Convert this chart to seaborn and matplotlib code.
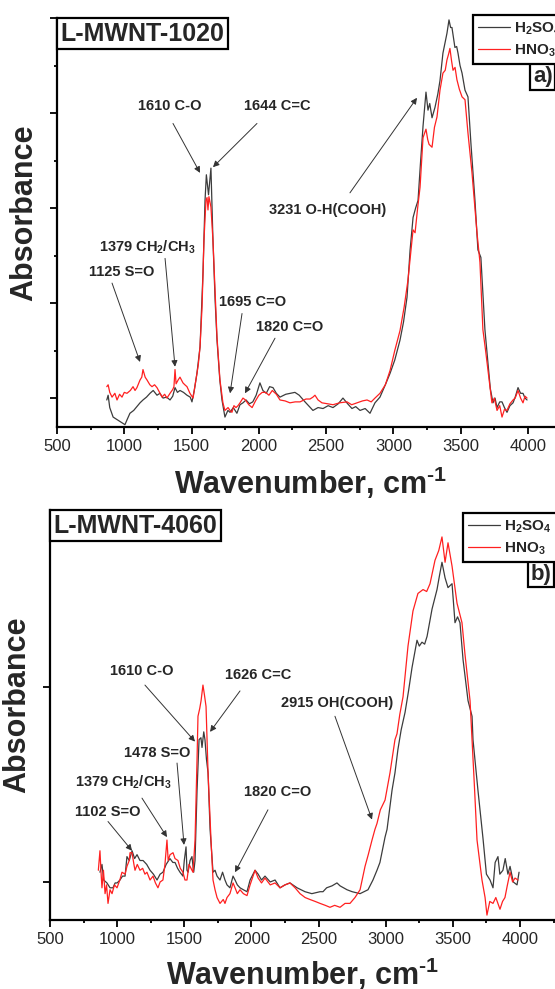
import numpy as np
import pandas as pd
import seaborn as sns
import matplotlib.pyplot as plt
from matplotlib.ticker import MultipleLocator

# ---- panel a) L-MWNT-1020 ----
wn_a_h2so4 = [870, 880, 892, 917, 950, 983, 1005, 1020, 1042, 1070,
              1094, 1117, 1139, 1165, 1191, 1215, 1243, 1265, 1288, 1315,
              1340, 1360, 1377, 1395, 1414, 1440, 1466, 1490, 1503, 1520,
              1540, 1563, 1585, 1600, 1610, 1626, 1644, 1659, 1675, 1689,
              1710, 1726, 1748, 1770, 1786, 1810, 1837, 1860, 1882, 1905,
              1930, 1955, 1980, 2008, 2030, 2055, 2080, 2105, 2130, 2157,
              2200, 2268, 2300, 2343, 2402, 2440, 2477, 2515, 2551, 2590,
              2625, 2660, 2692, 2720, 2752, 2790, 2826, 2863, 2900, 2940,
              2975, 3010, 3049, 3075, 3101, 3124, 3146, 3165, 3183, 3200,
              3220, 3242, 3257, 3270, 3287, 3309, 3330, 3346, 3368, 3385,
              3398, 3413, 3425, 3435, 3457, 3470, 3480, 3495, 3510, 3532,
              3554, 3576, 3606, 3628, 3650, 3680, 3703, 3720, 3740, 3755,
              3770, 3790, 3807, 3825, 3844, 3866, 3889, 3905, 3926, 3945,
              3963, 3978, 3993]
abs_a_h2so4 = [0.098, 0.103, 0.090, 0.080, 0.077, 0.074, 0.072, 0.077, 0.084, 0.087,
               0.091, 0.095, 0.098, 0.101, 0.105, 0.108, 0.103, 0.105, 0.100, 0.101,
               0.098, 0.102, 0.111, 0.106, 0.108, 0.106, 0.103, 0.101, 0.096, 0.108,
               0.126, 0.154, 0.232, 0.308, 0.335, 0.314, 0.342, 0.266, 0.203, 0.161,
               0.119, 0.098, 0.080, 0.087, 0.085, 0.090, 0.084, 0.093, 0.095, 0.098,
               0.094, 0.096, 0.103, 0.116, 0.108, 0.105, 0.112, 0.111, 0.105, 0.101,
               0.104, 0.106, 0.103, 0.096, 0.087, 0.090, 0.089, 0.092, 0.090, 0.094,
               0.100, 0.094, 0.089, 0.091, 0.087, 0.089, 0.084, 0.095, 0.101, 0.114,
               0.126, 0.140, 0.161, 0.180, 0.206, 0.256, 0.290, 0.300, 0.308, 0.345,
               0.386, 0.422, 0.403, 0.410, 0.395, 0.406, 0.420, 0.434, 0.463, 0.475,
               0.484, 0.498, 0.490, 0.490, 0.469, 0.470, 0.463, 0.450, 0.442, 0.424,
               0.417, 0.368, 0.308, 0.256, 0.248, 0.172, 0.137, 0.110, 0.095, 0.100,
               0.090, 0.096, 0.096, 0.090, 0.085, 0.092, 0.095, 0.101, 0.111, 0.105,
               0.105, 0.100, 0.098]

wn_a_hno3 = [870, 880, 892, 909, 930, 946, 965, 983, 1000, 1020,
             1045, 1065, 1080, 1094, 1117, 1130, 1139, 1155, 1169, 1190,
             1206, 1225, 1243, 1262, 1280, 1300, 1317, 1340, 1360, 1369,
             1377, 1385, 1400, 1414, 1436, 1450, 1466, 1488, 1511, 1520,
             1533, 1550, 1563, 1578, 1592, 1607, 1615, 1622, 1629, 1644,
             1659, 1674, 1689, 1711, 1733, 1748, 1771, 1786, 1800, 1815,
             1830, 1845, 1860, 1882, 1900, 1925, 1950, 1975, 2000, 2025,
             2050, 2075, 2100, 2130, 2157, 2195, 2231, 2270, 2306, 2350,
             2380, 2402, 2417, 2440, 2469, 2510, 2551, 2600, 2655, 2690,
             2729, 2770, 2804, 2835, 2863, 2900, 2940, 2975, 3010, 3049,
             3080, 3108, 3146, 3161, 3180, 3198, 3220, 3242, 3255, 3265,
             3287, 3305, 3324, 3346, 3368, 3385, 3398, 3410, 3420, 3432,
             3443, 3458, 3472, 3490, 3510, 3532, 3554, 3584, 3621, 3643,
             3665, 3685, 3703, 3732, 3750, 3770, 3790, 3807, 3825, 3844,
             3866, 3889, 3905, 3926, 3945, 3963, 3978, 3993]
abs_a_hno3 = [0.112, 0.114, 0.106, 0.101, 0.105, 0.098, 0.104, 0.101, 0.106, 0.105,
              0.108, 0.112, 0.108, 0.111, 0.119, 0.122, 0.130, 0.122, 0.119, 0.114,
              0.112, 0.114, 0.111, 0.106, 0.101, 0.104, 0.100, 0.105, 0.109, 0.112,
              0.130, 0.115, 0.119, 0.122, 0.116, 0.114, 0.112, 0.105, 0.100, 0.108,
              0.119, 0.135, 0.154, 0.196, 0.266, 0.308, 0.311, 0.298, 0.312, 0.301,
              0.266, 0.214, 0.164, 0.119, 0.095, 0.087, 0.090, 0.087, 0.085, 0.092,
              0.090, 0.092, 0.095, 0.100, 0.098, 0.093, 0.090, 0.097, 0.103, 0.106,
              0.106, 0.103, 0.108, 0.104, 0.098, 0.097, 0.095, 0.096, 0.096, 0.099,
              0.099, 0.101, 0.103, 0.098, 0.095, 0.094, 0.093, 0.095, 0.096, 0.093,
              0.095, 0.097, 0.098, 0.096, 0.100, 0.105, 0.114, 0.129, 0.150, 0.171,
              0.196, 0.224, 0.277, 0.274, 0.300, 0.322, 0.374, 0.383, 0.372, 0.367,
              0.364, 0.385, 0.396, 0.424, 0.442, 0.445, 0.456, 0.462, 0.468, 0.455,
              0.445, 0.448, 0.435, 0.425, 0.417, 0.414, 0.379, 0.337, 0.274, 0.243,
              0.172, 0.150, 0.129, 0.095, 0.100, 0.087, 0.092, 0.080, 0.088, 0.087,
              0.094, 0.098, 0.100, 0.108, 0.100, 0.095, 0.102, 0.100]

# ---- panel b) L-MWNT-4060 ----
wn_b_h2so4 = [872, 887, 900, 924, 947, 969, 985, 1000, 1021, 1040,
              1059, 1073, 1090, 1111, 1130, 1148, 1170, 1193, 1220, 1245,
              1270, 1297, 1320, 1341, 1365, 1393, 1415, 1431, 1450, 1468,
              1490, 1500, 1513, 1520, 1528, 1543, 1557, 1570, 1580, 1595,
              1610, 1624, 1632, 1645, 1654, 1665, 1677, 1692, 1706, 1714,
              1729, 1744, 1766, 1785, 1803, 1818, 1840, 1863, 1878, 1895,
              1915, 1940, 1967, 1990, 2027, 2050, 2075, 2101, 2140, 2176,
              2213, 2250, 2287, 2340, 2399, 2450, 2511, 2533, 2560, 2600,
              2637, 2660, 2712, 2750, 2809, 2868, 2905, 2935, 2957, 2995,
              3010, 3047, 3069, 3091, 3115, 3144, 3170, 3196, 3233, 3250,
              3270, 3290, 3308, 3345, 3382, 3400, 3419, 3442, 3464, 3494,
              3516, 3535, 3553, 3576, 3613, 3643, 3650, 3687, 3725, 3750,
              3777, 3799, 3815, 3836, 3850, 3873, 3890, 3910, 3926, 3950,
              3978, 3993]
abs_b_h2so4 = [0.105, 0.109, 0.101, 0.0995, 0.097, 0.097, 0.0995, 0.0995, 0.101, 0.103,
               0.103, 0.113, 0.111, 0.116, 0.112, 0.114, 0.111, 0.111, 0.109, 0.106,
               0.104, 0.101, 0.104, 0.105, 0.109, 0.112, 0.110, 0.110, 0.107, 0.105,
               0.103, 0.111, 0.118, 0.106, 0.105, 0.111, 0.113, 0.105, 0.111, 0.147,
               0.173, 0.174, 0.169, 0.177, 0.173, 0.163, 0.156, 0.127, 0.113, 0.105,
               0.106, 0.103, 0.101, 0.105, 0.101, 0.0985, 0.097, 0.103, 0.101, 0.0985,
               0.097, 0.096, 0.095, 0.101, 0.106, 0.104, 0.101, 0.103, 0.100, 0.101,
               0.097, 0.0985, 0.0995, 0.097, 0.095, 0.094, 0.095, 0.095, 0.097, 0.098,
               0.0995, 0.098, 0.096, 0.095, 0.094, 0.096, 0.101, 0.106, 0.110, 0.123,
               0.127, 0.147, 0.156, 0.168, 0.178, 0.187, 0.198, 0.210, 0.224, 0.221,
               0.223, 0.222, 0.226, 0.240, 0.250, 0.257, 0.264, 0.256, 0.251, 0.253,
               0.233, 0.236, 0.233, 0.214, 0.193, 0.185, 0.173, 0.147, 0.122, 0.104,
               0.101, 0.097, 0.110, 0.113, 0.104, 0.106, 0.112, 0.104, 0.108, 0.100,
               0.0985, 0.105]

wn_b_hno3 = [860, 872, 880, 887, 898, 910, 921, 932, 947, 962,
             980, 999, 1020, 1036, 1059, 1073, 1090, 1096, 1111, 1125,
             1133, 1150, 1170, 1190, 1207, 1222, 1245, 1267, 1285, 1304,
             1320, 1341, 1356, 1371, 1380, 1394, 1416, 1431, 1453, 1470,
             1490, 1505, 1520, 1535, 1543, 1557, 1565, 1580, 1595, 1602,
             1615, 1625, 1639, 1650, 1662, 1677, 1692, 1699, 1714, 1729,
             1744, 1766, 1790, 1803, 1818, 1840, 1863, 1878, 1895, 1915,
             1940, 1967, 1990, 2027, 2050, 2075, 2101, 2140, 2176, 2213,
             2250, 2287, 2325, 2362, 2400, 2436, 2475, 2511, 2550, 2585,
             2620, 2660, 2697, 2734, 2771, 2809, 2846, 2870, 2898, 2920,
             2935, 2960, 2995, 3032, 3069, 3084, 3105, 3129, 3166, 3203,
             3240, 3278, 3305, 3330, 3367, 3395, 3419, 3442, 3464, 3494,
             3531, 3568, 3590, 3628, 3643, 3660, 3680, 3717, 3740, 3754,
             3775, 3799, 3820, 3851, 3870, 3888, 3905, 3926, 3945, 3963,
             3985]
abs_b_hno3 = [0.106, 0.116, 0.105, 0.097, 0.106, 0.094, 0.0985, 0.089, 0.096, 0.094,
              0.0985, 0.097, 0.101, 0.105, 0.104, 0.108, 0.111, 0.115, 0.115, 0.109,
              0.106, 0.109, 0.106, 0.107, 0.104, 0.105, 0.101, 0.103, 0.0995, 0.097,
              0.100, 0.101, 0.109, 0.1215, 0.111, 0.114, 0.115, 0.112, 0.111, 0.107,
              0.105, 0.101, 0.101, 0.109, 0.108, 0.106, 0.105, 0.1215, 0.163, 0.185,
              0.189, 0.193, 0.201, 0.196, 0.190, 0.156, 0.132, 0.1215, 0.101, 0.096,
              0.092, 0.089, 0.091, 0.089, 0.092, 0.094, 0.0995, 0.097, 0.094, 0.096,
              0.094, 0.093, 0.0985, 0.106, 0.102, 0.0995, 0.102, 0.0985, 0.0995, 0.097,
              0.0985, 0.0995, 0.097, 0.094, 0.092, 0.091, 0.090, 0.089, 0.088, 0.087,
              0.088, 0.087, 0.089, 0.089, 0.092, 0.096, 0.108, 0.114, 0.1215, 0.127,
              0.130, 0.137, 0.142, 0.156, 0.173, 0.176, 0.186, 0.195, 0.221, 0.239,
              0.248, 0.250, 0.249, 0.253, 0.265, 0.270, 0.277, 0.264, 0.274, 0.262,
              0.243, 0.233, 0.217, 0.193, 0.173, 0.150, 0.1215, 0.101, 0.092, 0.083,
              0.090, 0.089, 0.092, 0.086, 0.090, 0.092, 0.098, 0.105, 0.100, 0.102,
              0.101]

series_labels = ["H$_2$SO$_4$", "HNO$_3$"]
series_colors = ["#3c3c3c", "#ff2020"]

# peak notes: label, text centre, arrow start, arrow tip (data coords)
notes_a = [
    ("1610 C-O", (1340, 0.407), (1362, 0.389), (1563, 0.337)),
    ("1644 C=C", (2135, 0.407), (1986, 0.389), (1659, 0.343)),
    ("3231 O-H(COOH)", (2510, 0.298), (2677, 0.316), (3175, 0.416)),
    ("1379 CH$_2$/CH$_3$", (1169, 0.259), (1303, 0.247), (1377, 0.133)),
    ("1125 S=O", (983, 0.233), (909, 0.221), (1117, 0.138)),
    ("1695 C=O", (1956, 0.201), (1875, 0.189), (1786, 0.105)),
    ("1820 C=O", (2231, 0.175), (2120, 0.163), (1897, 0.105)),
]
notes_b = [
    ("1610 C-O", (1185, 0.208), (1207, 0.201), (1580, 0.172)),
    ("1626 C=C", (2053, 0.206), (1915, 0.198), (1692, 0.177)),
    ("1478 S=O", (1300, 0.166), (1446, 0.161), (1498, 0.119)),
    ("1379 CH$_2$/CH$_3$", (1047, 0.151), (1185, 0.143), (1371, 0.123)),
    ("1102 S=O", (932, 0.136), (932, 0.131), (1111, 0.116)),
    ("1820 C=O", (2194, 0.146), (2123, 0.137), (1878, 0.105)),
    ("2915 OH(COOH)", (2637, 0.192), (2622, 0.185), (2898, 0.132)),
]

sns.set_style("ticks")
plt.rcParams["font.family"] = ["Liberation Sans", "DejaVu Sans"]
plt.rcParams["mathtext.fontset"] = "custom"
plt.rcParams["mathtext.rm"] = "Liberation Sans"
plt.rcParams["mathtext.bf"] = "Liberation Sans:bold"
plt.rcParams["mathtext.default"] = "regular"


def draw_panel(ax, spectra, sample, tag, ylim, minor_y, notes, legend_xy, tag_xy, xlab_y):
    for wn, ab, label, color in spectra:
        df = pd.DataFrame({"wn": wn, "abs": ab})
        sns.lineplot(data=df, x="wn", y="abs", ax=ax, color=color, lw=0.9,
                     label=label, estimator=None, sort=False)

    ax.set_xlim(500, 4400)
    ax.set_ylim(*ylim)
    ax.xaxis.set_major_locator(MultipleLocator(500))
    ax.xaxis.set_minor_locator(MultipleLocator(250))
    ax.yaxis.set_major_locator(MultipleLocator(0.1))
    if minor_y:
        ax.yaxis.set_minor_locator(MultipleLocator(0.05))
    ax.tick_params(which="major", direction="out", length=5, width=1.3, labelsize=12, color="black")
    ax.tick_params(which="minor", direction="out", length=2.5, width=1.3, color="black")
    ax.tick_params(axis="y", labelleft=False)
    for side in ["top", "right"]:
        ax.spines[side].set_visible(False)
    for side in ["left", "bottom"]:
        ax.spines[side].set_linewidth(1.6)
        ax.spines[side].set_color("black")

    # hyphen-style "-1" superscript as in the original figure
    ax.set_xlabel("Wavenumber, cm$^{\u2010 1}$", fontsize=22, fontweight="bold")
    ax.set_ylabel("Absorbance", fontsize=22, fontweight="bold")
    ax.xaxis.set_label_coords(0.483, xlab_y)
    ax.yaxis.set_label_coords(-0.034, 0.525)

    for text, txy, start, tip in notes:
        ax.text(txy[0], txy[1], text, ha="center", va="center", fontsize=10.5, fontweight="bold")
        ax.annotate("", xy=tip, xytext=start,
                    arrowprops=dict(arrowstyle="-|>", color="#333333", lw=0.7,
                                    mutation_scale=9, shrinkA=0, shrinkB=0))

    ax.text(0.007, 0.991, sample, transform=ax.transAxes, ha="left", va="top",
            fontsize=18, fontweight="bold",
            bbox=dict(boxstyle="square,pad=0.15", fc="white", ec="black", lw=1.6))

    leg = ax.legend(loc="upper left", bbox_to_anchor=legend_xy, frameon=True, fancybox=False,
                    edgecolor="black", framealpha=1, borderaxespad=0, borderpad=0.35,
                    handlelength=2.1, handletextpad=0.25, labelspacing=0.35,
                    prop={"weight": "bold", "size": 11})
    leg.get_frame().set_linewidth(1.6)

    ax.text(tag_xy[0], tag_xy[1], tag, transform=ax.transAxes, ha="left", va="top",
            fontsize=16, fontweight="bold",
            bbox=dict(boxstyle="square,pad=0.12", fc="white", ec="black", lw=1.6))


fig = plt.figure(figsize=(5.55, 9.89), dpi=100)
ax_a = fig.add_axes([0.1027, 0.5682, 0.9456, 0.4136])
ax_b = fig.add_axes([0.0901, 0.0698, 0.9436, 0.4145])

draw_panel(ax_a,
           [(wn_a_h2so4, abs_a_h2so4, series_labels[0], series_colors[0]),
            (wn_a_hno3, abs_a_hno3, series_labels[1], series_colors[1])],
           "L-MWNT-1020", "a)", (0.0695, 0.5), True, notes_a,
           (0.7927, 1.007), (0.907, 0.883), -0.093)
draw_panel(ax_b,
           [(wn_b_h2so4, abs_b_h2so4, series_labels[0], series_colors[0]),
            (wn_b_hno3, abs_b_hno3, series_labels[1], series_colors[1])],
           "L-MWNT-4060", "b)", (0.0805, 0.2908), False, notes_b,
           (0.7886, 0.9927), (0.918, 0.869), -0.087)

fig.savefig("out.png", dpi=100)
